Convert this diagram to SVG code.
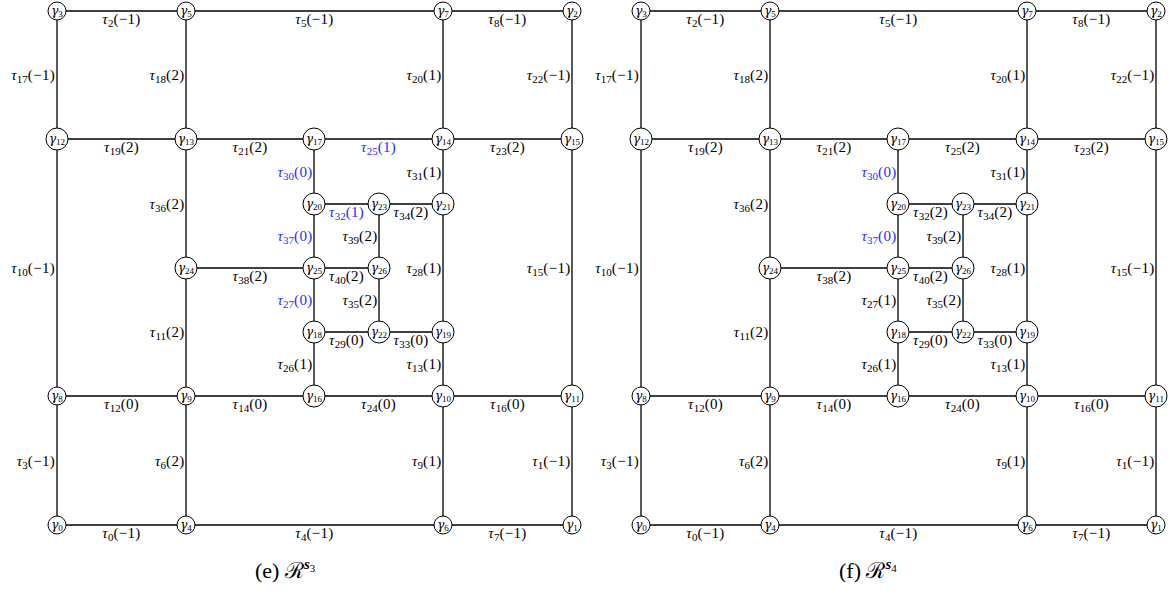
<svg xmlns="http://www.w3.org/2000/svg" width="1169" height="593" viewBox="0 0 1169 593">
<style>
text{font-family:"Liberation Serif","DejaVu Serif",serif;font-size:15px;fill:#000;letter-spacing:0.3px}
.i{font-style:italic}
.s{font-size:11px;letter-spacing:0}
.h{text-anchor:middle}
.v{text-anchor:end}
.b{fill:#2b2bff}
.e line{stroke:#000;stroke-width:1.3}
.n circle{fill:#fff;stroke:#000;stroke-width:1}
.n text{font-size:13px;text-anchor:middle;letter-spacing:0}
.n .i{font-family:"DejaVu Serif",serif;font-size:12px}
.n .s{font-size:9px}
.cap{font-size:22px;letter-spacing:0}
</style>
<rect width="1169" height="593" fill="#fff"/>

<!-- LEFT PANEL (e) -->
<g id="panel-e">
<g id="e-connectors" class="e">
<line x1="57" y1="11" x2="186" y2="11"/><line x1="186" y1="11" x2="443" y2="11"/><line x1="443" y1="11" x2="572" y2="11"/>
<line x1="57" y1="139" x2="186" y2="139"/><line x1="186" y1="139" x2="314" y2="139"/><line x1="314" y1="139" x2="443" y2="139"/><line x1="443" y1="139" x2="572" y2="139"/>
<line x1="314" y1="204" x2="379" y2="204"/><line x1="379" y1="204" x2="443" y2="204"/>
<line x1="186" y1="268" x2="314" y2="268"/><line x1="314" y1="268" x2="379" y2="268"/>
<line x1="314" y1="332" x2="379" y2="332"/><line x1="379" y1="332" x2="443" y2="332"/>
<line x1="57" y1="396" x2="186" y2="396"/><line x1="186" y1="396" x2="314" y2="396"/><line x1="314" y1="396" x2="443" y2="396"/><line x1="443" y1="396" x2="572" y2="396"/>
<line x1="57" y1="525" x2="186" y2="525"/><line x1="186" y1="525" x2="443" y2="525"/><line x1="443" y1="525" x2="572" y2="525"/>
<line x1="57" y1="11" x2="57" y2="139"/><line x1="57" y1="139" x2="57" y2="396"/><line x1="57" y1="396" x2="57" y2="525"/>
<line x1="186" y1="11" x2="186" y2="139"/><line x1="186" y1="139" x2="186" y2="268"/><line x1="186" y1="268" x2="186" y2="396"/><line x1="186" y1="396" x2="186" y2="525"/>
<line x1="314" y1="139" x2="314" y2="204"/><line x1="314" y1="204" x2="314" y2="268"/><line x1="314" y1="268" x2="314" y2="332"/><line x1="314" y1="332" x2="314" y2="396"/>
<line x1="379" y1="204" x2="379" y2="268"/><line x1="379" y1="268" x2="379" y2="332"/>
<line x1="443" y1="11" x2="443" y2="139"/><line x1="443" y1="139" x2="443" y2="204"/><line x1="443" y1="204" x2="443" y2="332"/><line x1="443" y1="332" x2="443" y2="396"/><line x1="443" y1="396" x2="443" y2="525"/>
<line x1="572" y1="11" x2="572" y2="139"/><line x1="572" y1="139" x2="572" y2="396"/><line x1="572" y1="396" x2="572" y2="525"/>
</g>
<g id="e-labels">
<text class="h" x="121.5" y="23.5"><tspan class="i">τ</tspan><tspan class="s" dy="3">2</tspan><tspan dy="-3">(−1)</tspan></text>
<text class="h" x="314.5" y="23.5"><tspan class="i">τ</tspan><tspan class="s" dy="3">5</tspan><tspan dy="-3">(−1)</tspan></text>
<text class="h" x="507.5" y="23.5"><tspan class="i">τ</tspan><tspan class="s" dy="3">8</tspan><tspan dy="-3">(−1)</tspan></text>
<text class="h" x="121.5" y="151.5"><tspan class="i">τ</tspan><tspan class="s" dy="3">19</tspan><tspan dy="-3">(2)</tspan></text>
<text class="h" x="250" y="151.5"><tspan class="i">τ</tspan><tspan class="s" dy="3">21</tspan><tspan dy="-3">(2)</tspan></text>
<text class="h b" x="378.5" y="151.5"><tspan class="i">τ</tspan><tspan class="s" dy="3">25</tspan><tspan dy="-3">(1)</tspan></text>
<text class="h" x="507.5" y="151.5"><tspan class="i">τ</tspan><tspan class="s" dy="3">23</tspan><tspan dy="-3">(2)</tspan></text>
<text class="h b" x="346.5" y="216.5"><tspan class="i">τ</tspan><tspan class="s" dy="3">32</tspan><tspan dy="-3">(1)</tspan></text>
<text class="h" x="411" y="216.5"><tspan class="i">τ</tspan><tspan class="s" dy="3">34</tspan><tspan dy="-3">(2)</tspan></text>
<text class="h" x="250" y="280.5"><tspan class="i">τ</tspan><tspan class="s" dy="3">38</tspan><tspan dy="-3">(2)</tspan></text>
<text class="h" x="346.5" y="280.5"><tspan class="i">τ</tspan><tspan class="s" dy="3">40</tspan><tspan dy="-3">(2)</tspan></text>
<text class="h" x="346.5" y="344.5"><tspan class="i">τ</tspan><tspan class="s" dy="3">29</tspan><tspan dy="-3">(0)</tspan></text>
<text class="h" x="411" y="344.5"><tspan class="i">τ</tspan><tspan class="s" dy="3">33</tspan><tspan dy="-3">(0)</tspan></text>
<text class="h" x="121.5" y="408.5"><tspan class="i">τ</tspan><tspan class="s" dy="3">12</tspan><tspan dy="-3">(0)</tspan></text>
<text class="h" x="250" y="408.5"><tspan class="i">τ</tspan><tspan class="s" dy="3">14</tspan><tspan dy="-3">(0)</tspan></text>
<text class="h" x="378.5" y="408.5"><tspan class="i">τ</tspan><tspan class="s" dy="3">24</tspan><tspan dy="-3">(0)</tspan></text>
<text class="h" x="507.5" y="408.5"><tspan class="i">τ</tspan><tspan class="s" dy="3">16</tspan><tspan dy="-3">(0)</tspan></text>
<text class="h" x="121.5" y="537.5"><tspan class="i">τ</tspan><tspan class="s" dy="3">0</tspan><tspan dy="-3">(−1)</tspan></text>
<text class="h" x="314.5" y="537.5"><tspan class="i">τ</tspan><tspan class="s" dy="3">4</tspan><tspan dy="-3">(−1)</tspan></text>
<text class="h" x="507.5" y="537.5"><tspan class="i">τ</tspan><tspan class="s" dy="3">7</tspan><tspan dy="-3">(−1)</tspan></text>
<text class="v" x="55" y="80"><tspan class="i">τ</tspan><tspan class="s" dy="3">17</tspan><tspan dy="-3">(−1)</tspan></text>
<text class="v" x="184.5" y="80"><tspan class="i">τ</tspan><tspan class="s" dy="3">18</tspan><tspan dy="-3">(2)</tspan></text>
<text class="v" x="441.5" y="80"><tspan class="i">τ</tspan><tspan class="s" dy="3">20</tspan><tspan dy="-3">(1)</tspan></text>
<text class="v" x="570.5" y="80"><tspan class="i">τ</tspan><tspan class="s" dy="3">22</tspan><tspan dy="-3">(−1)</tspan></text>
<text class="v" x="55" y="272.5"><tspan class="i">τ</tspan><tspan class="s" dy="3">10</tspan><tspan dy="-3">(−1)</tspan></text>
<text class="v" x="184.5" y="208.5"><tspan class="i">τ</tspan><tspan class="s" dy="3">36</tspan><tspan dy="-3">(2)</tspan></text>
<text class="v b" x="312.5" y="176.5"><tspan class="i">τ</tspan><tspan class="s" dy="3">30</tspan><tspan dy="-3">(0)</tspan></text>
<text class="v" x="441.5" y="176.5"><tspan class="i">τ</tspan><tspan class="s" dy="3">31</tspan><tspan dy="-3">(1)</tspan></text>
<text class="v b" x="312.5" y="241"><tspan class="i">τ</tspan><tspan class="s" dy="3">37</tspan><tspan dy="-3">(0)</tspan></text>
<text class="v" x="377.5" y="241"><tspan class="i">τ</tspan><tspan class="s" dy="3">39</tspan><tspan dy="-3">(2)</tspan></text>
<text class="v" x="441.5" y="273"><tspan class="i">τ</tspan><tspan class="s" dy="3">28</tspan><tspan dy="-3">(1)</tspan></text>
<text class="v" x="570.5" y="272.5"><tspan class="i">τ</tspan><tspan class="s" dy="3">15</tspan><tspan dy="-3">(−1)</tspan></text>
<text class="v" x="184.5" y="337"><tspan class="i">τ</tspan><tspan class="s" dy="3">11</tspan><tspan dy="-3">(2)</tspan></text>
<text class="v b" x="312.5" y="305"><tspan class="i">τ</tspan><tspan class="s" dy="3">27</tspan><tspan dy="-3">(0)</tspan></text>
<text class="v" x="377.5" y="305"><tspan class="i">τ</tspan><tspan class="s" dy="3">35</tspan><tspan dy="-3">(2)</tspan></text>
<text class="v" x="312.5" y="369"><tspan class="i">τ</tspan><tspan class="s" dy="3">26</tspan><tspan dy="-3">(1)</tspan></text>
<text class="v" x="441.5" y="369"><tspan class="i">τ</tspan><tspan class="s" dy="3">13</tspan><tspan dy="-3">(1)</tspan></text>
<text class="v" x="55" y="465.5"><tspan class="i">τ</tspan><tspan class="s" dy="3">3</tspan><tspan dy="-3">(−1)</tspan></text>
<text class="v" x="184.5" y="465.5"><tspan class="i">τ</tspan><tspan class="s" dy="3">6</tspan><tspan dy="-3">(2)</tspan></text>
<text class="v" x="441.5" y="465.5"><tspan class="i">τ</tspan><tspan class="s" dy="3">9</tspan><tspan dy="-3">(1)</tspan></text>
<text class="v" x="570.5" y="465.5"><tspan class="i">τ</tspan><tspan class="s" dy="3">1</tspan><tspan dy="-3">(−1)</tspan></text>
</g>
<g id="e-g0" class="n"><circle cx="57" cy="525" r="9"/><text x="57" y="529"><tspan class="i">γ</tspan><tspan class="s" dy="2">0</tspan></text></g>
<g id="e-g1" class="n"><circle cx="572" cy="525" r="9"/><text x="572" y="529"><tspan class="i">γ</tspan><tspan class="s" dy="2">1</tspan></text></g>
<g id="e-g2" class="n"><circle cx="572" cy="11" r="9"/><text x="572" y="15"><tspan class="i">γ</tspan><tspan class="s" dy="2">2</tspan></text></g>
<g id="e-g3" class="n"><circle cx="57" cy="11" r="9"/><text x="57" y="15"><tspan class="i">γ</tspan><tspan class="s" dy="2">3</tspan></text></g>
<g id="e-g4" class="n"><circle cx="186" cy="525" r="9"/><text x="186" y="529"><tspan class="i">γ</tspan><tspan class="s" dy="2">4</tspan></text></g>
<g id="e-g5" class="n"><circle cx="186" cy="11" r="9"/><text x="186" y="15"><tspan class="i">γ</tspan><tspan class="s" dy="2">5</tspan></text></g>
<g id="e-g6" class="n"><circle cx="443" cy="525" r="9"/><text x="443" y="529"><tspan class="i">γ</tspan><tspan class="s" dy="2">6</tspan></text></g>
<g id="e-g7" class="n"><circle cx="443" cy="11" r="9"/><text x="443" y="15"><tspan class="i">γ</tspan><tspan class="s" dy="2">7</tspan></text></g>
<g id="e-g8" class="n"><circle cx="57" cy="396" r="9"/><text x="57" y="400"><tspan class="i">γ</tspan><tspan class="s" dy="2">8</tspan></text></g>
<g id="e-g9" class="n"><circle cx="186" cy="396" r="9"/><text x="186" y="400"><tspan class="i">γ</tspan><tspan class="s" dy="2">9</tspan></text></g>
<g id="e-g10" class="n"><circle cx="443" cy="396" r="11"/><text x="443" y="400"><tspan class="i">γ</tspan><tspan class="s" dy="2">10</tspan></text></g>
<g id="e-g11" class="n"><circle cx="572" cy="396" r="11"/><text x="572" y="400"><tspan class="i">γ</tspan><tspan class="s" dy="2">11</tspan></text></g>
<g id="e-g12" class="n"><circle cx="57" cy="139" r="11"/><text x="57" y="143"><tspan class="i">γ</tspan><tspan class="s" dy="2">12</tspan></text></g>
<g id="e-g13" class="n"><circle cx="186" cy="139" r="11"/><text x="186" y="143"><tspan class="i">γ</tspan><tspan class="s" dy="2">13</tspan></text></g>
<g id="e-g14" class="n"><circle cx="443" cy="139" r="11"/><text x="443" y="143"><tspan class="i">γ</tspan><tspan class="s" dy="2">14</tspan></text></g>
<g id="e-g15" class="n"><circle cx="572" cy="139" r="11"/><text x="572" y="143"><tspan class="i">γ</tspan><tspan class="s" dy="2">15</tspan></text></g>
<g id="e-g16" class="n"><circle cx="314" cy="396" r="11"/><text x="314" y="400"><tspan class="i">γ</tspan><tspan class="s" dy="2">16</tspan></text></g>
<g id="e-g17" class="n"><circle cx="314" cy="139" r="11"/><text x="314" y="143"><tspan class="i">γ</tspan><tspan class="s" dy="2">17</tspan></text></g>
<g id="e-g18" class="n"><circle cx="314" cy="332" r="11"/><text x="314" y="336"><tspan class="i">γ</tspan><tspan class="s" dy="2">18</tspan></text></g>
<g id="e-g19" class="n"><circle cx="443" cy="332" r="11"/><text x="443" y="336"><tspan class="i">γ</tspan><tspan class="s" dy="2">19</tspan></text></g>
<g id="e-g20" class="n"><circle cx="314" cy="204" r="11"/><text x="314" y="208"><tspan class="i">γ</tspan><tspan class="s" dy="2">20</tspan></text></g>
<g id="e-g21" class="n"><circle cx="443" cy="204" r="11"/><text x="443" y="208"><tspan class="i">γ</tspan><tspan class="s" dy="2">21</tspan></text></g>
<g id="e-g22" class="n"><circle cx="379" cy="332" r="11"/><text x="379" y="336"><tspan class="i">γ</tspan><tspan class="s" dy="2">22</tspan></text></g>
<g id="e-g23" class="n"><circle cx="379" cy="204" r="11"/><text x="379" y="208"><tspan class="i">γ</tspan><tspan class="s" dy="2">23</tspan></text></g>
<g id="e-g24" class="n"><circle cx="186" cy="268" r="11"/><text x="186" y="272"><tspan class="i">γ</tspan><tspan class="s" dy="2">24</tspan></text></g>
<g id="e-g25" class="n"><circle cx="314" cy="268" r="11"/><text x="314" y="272"><tspan class="i">γ</tspan><tspan class="s" dy="2">25</tspan></text></g>
<g id="e-g26" class="n"><circle cx="379" cy="268" r="11"/><text x="379" y="272"><tspan class="i">γ</tspan><tspan class="s" dy="2">26</tspan></text></g>
<text class="cap" x="255" y="578">(e) ℛ<tspan font-size="15" font-weight="bold" font-style="italic" dy="-9">s</tspan><tspan font-size="11" dy="3">3</tspan></text>
</g>

<!-- RIGHT PANEL (f) -->
<g id="panel-f" transform="translate(584,0)">
<g id="f-connectors" class="e">
<line x1="57" y1="11" x2="186" y2="11"/><line x1="186" y1="11" x2="443" y2="11"/><line x1="443" y1="11" x2="572" y2="11"/>
<line x1="57" y1="139" x2="186" y2="139"/><line x1="186" y1="139" x2="314" y2="139"/><line x1="314" y1="139" x2="443" y2="139"/><line x1="443" y1="139" x2="572" y2="139"/>
<line x1="314" y1="204" x2="379" y2="204"/><line x1="379" y1="204" x2="443" y2="204"/>
<line x1="186" y1="268" x2="314" y2="268"/><line x1="314" y1="268" x2="379" y2="268"/>
<line x1="314" y1="332" x2="379" y2="332"/><line x1="379" y1="332" x2="443" y2="332"/>
<line x1="57" y1="396" x2="186" y2="396"/><line x1="186" y1="396" x2="314" y2="396"/><line x1="314" y1="396" x2="443" y2="396"/><line x1="443" y1="396" x2="572" y2="396"/>
<line x1="57" y1="525" x2="186" y2="525"/><line x1="186" y1="525" x2="443" y2="525"/><line x1="443" y1="525" x2="572" y2="525"/>
<line x1="57" y1="11" x2="57" y2="139"/><line x1="57" y1="139" x2="57" y2="396"/><line x1="57" y1="396" x2="57" y2="525"/>
<line x1="186" y1="11" x2="186" y2="139"/><line x1="186" y1="139" x2="186" y2="268"/><line x1="186" y1="268" x2="186" y2="396"/><line x1="186" y1="396" x2="186" y2="525"/>
<line x1="314" y1="139" x2="314" y2="204"/><line x1="314" y1="204" x2="314" y2="268"/><line x1="314" y1="268" x2="314" y2="332"/><line x1="314" y1="332" x2="314" y2="396"/>
<line x1="379" y1="204" x2="379" y2="268"/><line x1="379" y1="268" x2="379" y2="332"/>
<line x1="443" y1="11" x2="443" y2="139"/><line x1="443" y1="139" x2="443" y2="204"/><line x1="443" y1="204" x2="443" y2="332"/><line x1="443" y1="332" x2="443" y2="396"/><line x1="443" y1="396" x2="443" y2="525"/>
<line x1="572" y1="11" x2="572" y2="139"/><line x1="572" y1="139" x2="572" y2="396"/><line x1="572" y1="396" x2="572" y2="525"/>
</g>
<g id="f-labels">
<text class="h" x="121.5" y="23.5"><tspan class="i">τ</tspan><tspan class="s" dy="3">2</tspan><tspan dy="-3">(−1)</tspan></text>
<text class="h" x="314.5" y="23.5"><tspan class="i">τ</tspan><tspan class="s" dy="3">5</tspan><tspan dy="-3">(−1)</tspan></text>
<text class="h" x="507.5" y="23.5"><tspan class="i">τ</tspan><tspan class="s" dy="3">8</tspan><tspan dy="-3">(−1)</tspan></text>
<text class="h" x="121.5" y="151.5"><tspan class="i">τ</tspan><tspan class="s" dy="3">19</tspan><tspan dy="-3">(2)</tspan></text>
<text class="h" x="250" y="151.5"><tspan class="i">τ</tspan><tspan class="s" dy="3">21</tspan><tspan dy="-3">(2)</tspan></text>
<text class="h" x="378.5" y="151.5"><tspan class="i">τ</tspan><tspan class="s" dy="3">25</tspan><tspan dy="-3">(2)</tspan></text>
<text class="h" x="507.5" y="151.5"><tspan class="i">τ</tspan><tspan class="s" dy="3">23</tspan><tspan dy="-3">(2)</tspan></text>
<text class="h" x="346.5" y="216.5"><tspan class="i">τ</tspan><tspan class="s" dy="3">32</tspan><tspan dy="-3">(2)</tspan></text>
<text class="h" x="411" y="216.5"><tspan class="i">τ</tspan><tspan class="s" dy="3">34</tspan><tspan dy="-3">(2)</tspan></text>
<text class="h" x="250" y="280.5"><tspan class="i">τ</tspan><tspan class="s" dy="3">38</tspan><tspan dy="-3">(2)</tspan></text>
<text class="h" x="346.5" y="280.5"><tspan class="i">τ</tspan><tspan class="s" dy="3">40</tspan><tspan dy="-3">(2)</tspan></text>
<text class="h" x="346.5" y="344.5"><tspan class="i">τ</tspan><tspan class="s" dy="3">29</tspan><tspan dy="-3">(0)</tspan></text>
<text class="h" x="411" y="344.5"><tspan class="i">τ</tspan><tspan class="s" dy="3">33</tspan><tspan dy="-3">(0)</tspan></text>
<text class="h" x="121.5" y="408.5"><tspan class="i">τ</tspan><tspan class="s" dy="3">12</tspan><tspan dy="-3">(0)</tspan></text>
<text class="h" x="250" y="408.5"><tspan class="i">τ</tspan><tspan class="s" dy="3">14</tspan><tspan dy="-3">(0)</tspan></text>
<text class="h" x="378.5" y="408.5"><tspan class="i">τ</tspan><tspan class="s" dy="3">24</tspan><tspan dy="-3">(0)</tspan></text>
<text class="h" x="507.5" y="408.5"><tspan class="i">τ</tspan><tspan class="s" dy="3">16</tspan><tspan dy="-3">(0)</tspan></text>
<text class="h" x="121.5" y="537.5"><tspan class="i">τ</tspan><tspan class="s" dy="3">0</tspan><tspan dy="-3">(−1)</tspan></text>
<text class="h" x="314.5" y="537.5"><tspan class="i">τ</tspan><tspan class="s" dy="3">4</tspan><tspan dy="-3">(−1)</tspan></text>
<text class="h" x="507.5" y="537.5"><tspan class="i">τ</tspan><tspan class="s" dy="3">7</tspan><tspan dy="-3">(−1)</tspan></text>
<text class="v" x="55" y="80"><tspan class="i">τ</tspan><tspan class="s" dy="3">17</tspan><tspan dy="-3">(−1)</tspan></text>
<text class="v" x="184.5" y="80"><tspan class="i">τ</tspan><tspan class="s" dy="3">18</tspan><tspan dy="-3">(2)</tspan></text>
<text class="v" x="441.5" y="80"><tspan class="i">τ</tspan><tspan class="s" dy="3">20</tspan><tspan dy="-3">(1)</tspan></text>
<text class="v" x="570.5" y="80"><tspan class="i">τ</tspan><tspan class="s" dy="3">22</tspan><tspan dy="-3">(−1)</tspan></text>
<text class="v" x="55" y="272.5"><tspan class="i">τ</tspan><tspan class="s" dy="3">10</tspan><tspan dy="-3">(−1)</tspan></text>
<text class="v" x="184.5" y="208.5"><tspan class="i">τ</tspan><tspan class="s" dy="3">36</tspan><tspan dy="-3">(2)</tspan></text>
<text class="v b" x="312.5" y="176.5"><tspan class="i">τ</tspan><tspan class="s" dy="3">30</tspan><tspan dy="-3">(0)</tspan></text>
<text class="v" x="441.5" y="176.5"><tspan class="i">τ</tspan><tspan class="s" dy="3">31</tspan><tspan dy="-3">(1)</tspan></text>
<text class="v b" x="312.5" y="241"><tspan class="i">τ</tspan><tspan class="s" dy="3">37</tspan><tspan dy="-3">(0)</tspan></text>
<text class="v" x="377.5" y="241"><tspan class="i">τ</tspan><tspan class="s" dy="3">39</tspan><tspan dy="-3">(2)</tspan></text>
<text class="v" x="441.5" y="273"><tspan class="i">τ</tspan><tspan class="s" dy="3">28</tspan><tspan dy="-3">(1)</tspan></text>
<text class="v" x="570.5" y="272.5"><tspan class="i">τ</tspan><tspan class="s" dy="3">15</tspan><tspan dy="-3">(−1)</tspan></text>
<text class="v" x="184.5" y="337"><tspan class="i">τ</tspan><tspan class="s" dy="3">11</tspan><tspan dy="-3">(2)</tspan></text>
<text class="v" x="312.5" y="305"><tspan class="i">τ</tspan><tspan class="s" dy="3">27</tspan><tspan dy="-3">(1)</tspan></text>
<text class="v" x="377.5" y="305"><tspan class="i">τ</tspan><tspan class="s" dy="3">35</tspan><tspan dy="-3">(2)</tspan></text>
<text class="v" x="312.5" y="369"><tspan class="i">τ</tspan><tspan class="s" dy="3">26</tspan><tspan dy="-3">(1)</tspan></text>
<text class="v" x="441.5" y="369"><tspan class="i">τ</tspan><tspan class="s" dy="3">13</tspan><tspan dy="-3">(1)</tspan></text>
<text class="v" x="55" y="465.5"><tspan class="i">τ</tspan><tspan class="s" dy="3">3</tspan><tspan dy="-3">(−1)</tspan></text>
<text class="v" x="184.5" y="465.5"><tspan class="i">τ</tspan><tspan class="s" dy="3">6</tspan><tspan dy="-3">(2)</tspan></text>
<text class="v" x="441.5" y="465.5"><tspan class="i">τ</tspan><tspan class="s" dy="3">9</tspan><tspan dy="-3">(1)</tspan></text>
<text class="v" x="570.5" y="465.5"><tspan class="i">τ</tspan><tspan class="s" dy="3">1</tspan><tspan dy="-3">(−1)</tspan></text>
</g>
<g id="f-g0" class="n"><circle cx="57" cy="525" r="9"/><text x="57" y="529"><tspan class="i">γ</tspan><tspan class="s" dy="2">0</tspan></text></g>
<g id="f-g1" class="n"><circle cx="572" cy="525" r="9"/><text x="572" y="529"><tspan class="i">γ</tspan><tspan class="s" dy="2">1</tspan></text></g>
<g id="f-g2" class="n"><circle cx="572" cy="11" r="9"/><text x="572" y="15"><tspan class="i">γ</tspan><tspan class="s" dy="2">2</tspan></text></g>
<g id="f-g3" class="n"><circle cx="57" cy="11" r="9"/><text x="57" y="15"><tspan class="i">γ</tspan><tspan class="s" dy="2">3</tspan></text></g>
<g id="f-g4" class="n"><circle cx="186" cy="525" r="9"/><text x="186" y="529"><tspan class="i">γ</tspan><tspan class="s" dy="2">4</tspan></text></g>
<g id="f-g5" class="n"><circle cx="186" cy="11" r="9"/><text x="186" y="15"><tspan class="i">γ</tspan><tspan class="s" dy="2">5</tspan></text></g>
<g id="f-g6" class="n"><circle cx="443" cy="525" r="9"/><text x="443" y="529"><tspan class="i">γ</tspan><tspan class="s" dy="2">6</tspan></text></g>
<g id="f-g7" class="n"><circle cx="443" cy="11" r="9"/><text x="443" y="15"><tspan class="i">γ</tspan><tspan class="s" dy="2">7</tspan></text></g>
<g id="f-g8" class="n"><circle cx="57" cy="396" r="9"/><text x="57" y="400"><tspan class="i">γ</tspan><tspan class="s" dy="2">8</tspan></text></g>
<g id="f-g9" class="n"><circle cx="186" cy="396" r="9"/><text x="186" y="400"><tspan class="i">γ</tspan><tspan class="s" dy="2">9</tspan></text></g>
<g id="f-g10" class="n"><circle cx="443" cy="396" r="11"/><text x="443" y="400"><tspan class="i">γ</tspan><tspan class="s" dy="2">10</tspan></text></g>
<g id="f-g11" class="n"><circle cx="572" cy="396" r="11"/><text x="572" y="400"><tspan class="i">γ</tspan><tspan class="s" dy="2">11</tspan></text></g>
<g id="f-g12" class="n"><circle cx="57" cy="139" r="11"/><text x="57" y="143"><tspan class="i">γ</tspan><tspan class="s" dy="2">12</tspan></text></g>
<g id="f-g13" class="n"><circle cx="186" cy="139" r="11"/><text x="186" y="143"><tspan class="i">γ</tspan><tspan class="s" dy="2">13</tspan></text></g>
<g id="f-g14" class="n"><circle cx="443" cy="139" r="11"/><text x="443" y="143"><tspan class="i">γ</tspan><tspan class="s" dy="2">14</tspan></text></g>
<g id="f-g15" class="n"><circle cx="572" cy="139" r="11"/><text x="572" y="143"><tspan class="i">γ</tspan><tspan class="s" dy="2">15</tspan></text></g>
<g id="f-g16" class="n"><circle cx="314" cy="396" r="11"/><text x="314" y="400"><tspan class="i">γ</tspan><tspan class="s" dy="2">16</tspan></text></g>
<g id="f-g17" class="n"><circle cx="314" cy="139" r="11"/><text x="314" y="143"><tspan class="i">γ</tspan><tspan class="s" dy="2">17</tspan></text></g>
<g id="f-g18" class="n"><circle cx="314" cy="332" r="11"/><text x="314" y="336"><tspan class="i">γ</tspan><tspan class="s" dy="2">18</tspan></text></g>
<g id="f-g19" class="n"><circle cx="443" cy="332" r="11"/><text x="443" y="336"><tspan class="i">γ</tspan><tspan class="s" dy="2">19</tspan></text></g>
<g id="f-g20" class="n"><circle cx="314" cy="204" r="11"/><text x="314" y="208"><tspan class="i">γ</tspan><tspan class="s" dy="2">20</tspan></text></g>
<g id="f-g21" class="n"><circle cx="443" cy="204" r="11"/><text x="443" y="208"><tspan class="i">γ</tspan><tspan class="s" dy="2">21</tspan></text></g>
<g id="f-g22" class="n"><circle cx="379" cy="332" r="11"/><text x="379" y="336"><tspan class="i">γ</tspan><tspan class="s" dy="2">22</tspan></text></g>
<g id="f-g23" class="n"><circle cx="379" cy="204" r="11"/><text x="379" y="208"><tspan class="i">γ</tspan><tspan class="s" dy="2">23</tspan></text></g>
<g id="f-g24" class="n"><circle cx="186" cy="268" r="11"/><text x="186" y="272"><tspan class="i">γ</tspan><tspan class="s" dy="2">24</tspan></text></g>
<g id="f-g25" class="n"><circle cx="314" cy="268" r="11"/><text x="314" y="272"><tspan class="i">γ</tspan><tspan class="s" dy="2">25</tspan></text></g>
<g id="f-g26" class="n"><circle cx="379" cy="268" r="11"/><text x="379" y="272"><tspan class="i">γ</tspan><tspan class="s" dy="2">26</tspan></text></g>
<text class="cap" x="255" y="578">(f) ℛ<tspan font-size="15" font-weight="bold" font-style="italic" dy="-9">s</tspan><tspan font-size="11" dy="3">4</tspan></text>
</g>
</svg>
